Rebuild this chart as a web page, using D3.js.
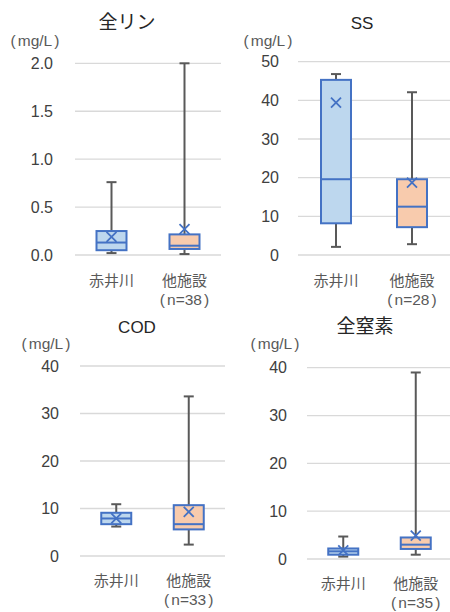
<!DOCTYPE html>
<html>
<head>
<meta charset="utf-8">
<script src="https://cdn.jsdelivr.net/npm/d3@7"></script>
<style>
  html, body { margin: 0; padding: 0; background: #fff; }
  svg { display: block; }
</style>
</head>
<body>
<svg id="chart" width="450" height="612"></svg>
<script>
// Water quality box plots: 赤井川 vs other facilities
const titles = ["全リン", "SS", "COD", "全窒素"];
const categories = ["赤井川", "他施設"];
const sampleCounts = [38, 28, 33, 35];
const unitText = "mg/L";
const yMaxima = [2.0, 50, 40, 40];
const tickValues = [
  [0, 0.5, 1.0, 1.5, 2.0],
  [0, 10, 20, 30, 40, 50],
  [0, 10, 20, 30, 40],
  [0, 10, 20, 30, 40]
];
const tickDecimals = [1, 0, 0, 0];

// per panel: [赤井川, 他施設]
const whiskerLow  = [[0.02, 0.01], [2.1, 2.8], [6.2, 2.4], [0.5, 0.9]];
const quartile1   = [[0.05, 0.063], [8.2, 7.2], [6.7, 5.6], [0.9, 2.1]];
const medianVals  = [[0.13, 0.097], [19.6, 12.5], [7.9, 6.7], [1.6, 3.0]];
const quartile3   = [[0.25, 0.215], [45.3, 19.6], [9.1, 10.7], [2.2, 4.5]];
const whiskerHigh = [[0.76, 2.0], [46.8, 42.1], [10.9, 33.6], [4.7, 39.0]];
const meanVals    = [[0.19, 0.27], [39.4, 18.7], [7.9, 9.3], [1.8, 4.9]];

// panel frames (plot area)
const frames = [
  { x0: 75,  x1: 221, yTop: 63.3,  yBot: 255,  tickX: 53,  titleX: 127, titleY: 22,  unitX: 35,  unitY: 40,  labY: 281 },
  { x0: 298, x1: 450, yTop: 61.7,  yBot: 255,  tickX: 279, titleX: 362, titleY: 23,  unitX: 268, unitY: 40,  labY: 281 },
  { x0: 80,  x1: 225, yTop: 366,   yBot: 556,  tickX: 59,  titleX: 137, titleY: 327, unitX: 46,  unitY: 343, labY: 581 },
  { x0: 307, x1: 452, yTop: 367.7, yBot: 559,  tickX: 287, titleX: 365, titleY: 326, unitX: 275, unitY: 343, labY: 584 }
];

const fills = ["#BDD7EE", "#F8CBAD"];
const boxStroke = "#4472C4";
const whiskerColor = "#595959";
const gridColor = "#D9D9D9";
const textColor = "#595959";
const fontLatin = "'Liberation Sans', Arial, sans-serif";
const fontCJK = "'Noto Sans CJK JP', sans-serif";

const svg = d3.select("#chart");
const boxW = 30, capW = 10, xSize = 5;

// parenthesised label with slightly wide brackets
function bracketed(g, cx, cy, inner, size) {
  const t = g.append("text")
    .attr("x", cx).attr("y", cy).attr("dy", "0.36em")
    .attr("text-anchor", "middle")
    .attr("font-family", fontLatin).attr("font-size", size)
    .attr("fill", textColor);
  t.append("tspan").text("(");
  t.append("tspan").attr("dx", 2).text(inner);
  t.append("tspan").attr("dx", 2).text(")");
  return t;
}

titles.forEach((title, p) => {
  const f = frames[p];
  const g = svg.append("g");

  const y = d3.scaleLinear().domain([0, yMaxima[p]]).range([f.yBot, f.yTop]);
  const x = d3.scaleBand().domain(categories).range([f.x0, f.x1]);

  // gridlines
  g.selectAll("line.grid").data(tickValues[p]).join("line")
    .attr("x1", f.x0).attr("x2", f.x1)
    .attr("y1", d => y(d)).attr("y2", d => y(d))
    .attr("stroke", gridColor).attr("stroke-width", 1.3);

  // tick labels
  const fmt = d3.format("." + tickDecimals[p] + "f");
  g.selectAll("text.tick").data(tickValues[p]).join("text")
    .attr("x", f.tickX).attr("y", d => y(d))
    .attr("dy", "0.36em").attr("text-anchor", "end")
    .attr("font-family", fontLatin).attr("font-size", 16)
    .attr("fill", "#404040")
    .text(d => fmt(d));

  // title
  const isCJK = /[^\x00-\x7F]/.test(title);
  g.append("text")
    .attr("x", f.titleX).attr("y", f.titleY).attr("dy", "0.36em")
    .attr("text-anchor", "middle")
    .attr("font-family", isCJK ? fontCJK : fontLatin)
    .attr("font-size", isCJK ? 19 : 17)
    .attr("fill", "#262626")
    .text(title);

  // unit
  bracketed(g, f.unitX, f.unitY, unitText, 15.5);

  // category labels
  categories.forEach((c, i) => {
    const cx = x(c) + x.bandwidth() / 2;
    g.append("text")
      .attr("x", cx).attr("y", f.labY).attr("dy", "0.36em")
      .attr("text-anchor", "middle")
      .attr("font-family", fontCJK).attr("font-size", 15)
      .attr("fill", textColor)
      .text(c);
    if (i === 1) {
      bracketed(g, cx, f.labY + 18, "n=" + sampleCounts[p], 15.5);
    }
  });

  // boxes
  categories.forEach((c, i) => {
    const cx = x(c) + x.bandwidth() / 2;
    const lo = whiskerLow[p][i], q1 = quartile1[p][i], md = medianVals[p][i];
    const q3 = quartile3[p][i], hi = whiskerHigh[p][i], mn = meanVals[p][i];

    // whiskers
    [[hi, q3], [q1, lo]].forEach(([a, b]) => {
      g.append("line")
        .attr("x1", cx).attr("x2", cx)
        .attr("y1", y(a)).attr("y2", y(b))
        .attr("stroke", whiskerColor).attr("stroke-width", 2);
    });
    [hi, lo].forEach(v => {
      g.append("line")
        .attr("x1", cx - capW / 2).attr("x2", cx + capW / 2)
        .attr("y1", y(v)).attr("y2", y(v))
        .attr("stroke", whiskerColor).attr("stroke-width", 2);
    });

    // box
    g.append("rect")
      .attr("x", cx - boxW / 2).attr("width", boxW)
      .attr("y", y(q3)).attr("height", y(q1) - y(q3))
      .attr("fill", fills[i])
      .attr("stroke", boxStroke).attr("stroke-width", 2);

    // median
    g.append("line")
      .attr("x1", cx - boxW / 2).attr("x2", cx + boxW / 2)
      .attr("y1", y(md)).attr("y2", y(md))
      .attr("stroke", boxStroke).attr("stroke-width", 2);

    // mean marker
    const my = y(mn);
    g.append("path")
      .attr("d", `M${cx - xSize},${my - xSize}L${cx + xSize},${my + xSize}M${cx - xSize},${my + xSize}L${cx + xSize},${my - xSize}`)
      .attr("stroke", boxStroke).attr("stroke-width", 1.8).attr("fill", "none");
  });
});
</script>
</body>
</html>
